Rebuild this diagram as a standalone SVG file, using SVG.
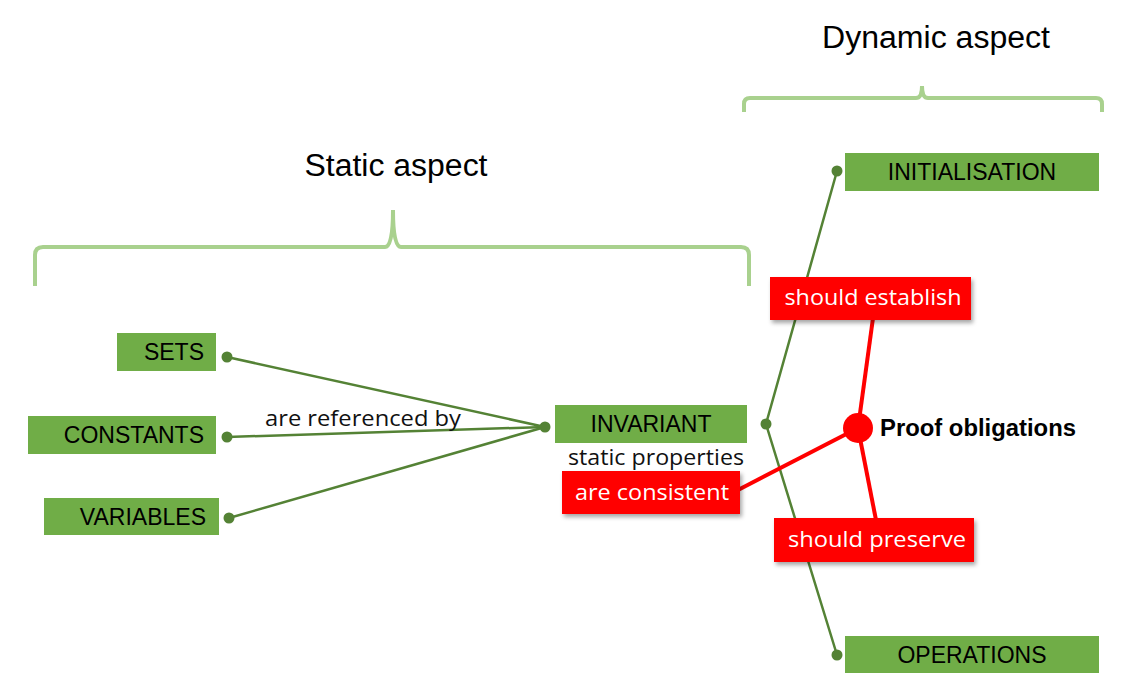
<svg xmlns="http://www.w3.org/2000/svg" width="1142" height="697" viewBox="0 0 1142 697">
<defs>
<style>
.box{fill:#70AD47}
.lbl{font-family:"Liberation Sans",Arial,sans-serif;font-size:23px;fill:#000}
.red{fill:#FF0000;filter:url(#sh)}
.rlbl{font-family:"Open Sans",sans-serif;font-size:21px;fill:#fff;text-anchor:middle}
.note{font-family:"Open Sans",sans-serif;font-size:21px;fill:#111}
.title{font-family:"Liberation Sans",Arial,sans-serif;font-size:31px;fill:#000;text-anchor:middle}
.brace{fill:none;stroke:#A9D18E;stroke-width:4}
.g{stroke:#548235;stroke-width:2.5;fill:none}
.r{stroke:#FF0000;stroke-width:4;fill:none}
.dot{fill:#548235}
</style>
<filter id="sh" x="-10%" y="-20%" width="130%" height="150%">
<feDropShadow dx="2" dy="3" stdDeviation="2" flood-color="#000" flood-opacity="0.35"/>
</filter>
</defs>
<rect width="1142" height="697" fill="#fff"/>

<g id="titles">
<text class="title" x="936" y="48" textLength="228" lengthAdjust="spacingAndGlyphs">Dynamic aspect</text>
<path class="brace" d="M744,112 V104 Q744,98 750,98 H916 Q922,98 922,86 Q922,98 928,98 H1096 Q1102,98 1102,104 V112"/>
<text class="title" x="396" y="176" textLength="183" lengthAdjust="spacingAndGlyphs">Static aspect</text>
<path class="brace" d="M35,286 V255 Q35,247 43,247 H385 Q393,247 393,210 Q393,247 401,247 H741 Q749,247 749,255 V286"/>
</g>

<g id="connectors">
<line class="g" x1="227" y1="357" x2="545" y2="427"/>
<line class="g" x1="227" y1="437" x2="545" y2="427"/>
<line class="g" x1="229" y1="518" x2="545" y2="427"/>
<polyline class="g" points="837,171 766,424 837,655"/>
<line class="r" x1="873" y1="318" x2="858" y2="428"/>
<line class="r" x1="858" y1="428" x2="876" y2="520"/>
<line class="r" x1="738" y1="490" x2="858" y2="428"/>
<circle class="dot" cx="227" cy="357" r="5.5"/>
<circle class="dot" cx="227" cy="437" r="5.5"/>
<circle class="dot" cx="229" cy="518" r="5.5"/>
<circle class="dot" cx="545" cy="427" r="5.5"/>
<circle class="dot" cx="766" cy="424" r="5.5"/>
<circle class="dot" cx="837" cy="171" r="5.5"/>
<circle class="dot" cx="837" cy="655" r="5.5"/>
<text class="note" x="265" y="426" textLength="196" lengthAdjust="spacingAndGlyphs">are referenced by</text>
<text class="note" x="568" y="465" textLength="176" lengthAdjust="spacingAndGlyphs">static properties</text>
</g>

<g id="sets"><rect class="box" x="117" y="333" width="99" height="38"/><text class="lbl" x="204" y="360" text-anchor="end">SETS</text></g>
<g id="constants"><rect class="box" x="28" y="416" width="188" height="38"/><text class="lbl" x="204" y="443" text-anchor="end">CONSTANTS</text></g>
<g id="variables"><rect class="box" x="44" y="498" width="175" height="37"/><text class="lbl" x="206" y="525" text-anchor="end">VARIABLES</text></g>
<g id="invariant"><rect class="box" x="555" y="405" width="192" height="38"/><text class="lbl" x="651" y="432" text-anchor="middle">INVARIANT</text></g>
<g id="initialisation"><rect class="box" x="845" y="153" width="254" height="38"/><text class="lbl" x="972" y="180" text-anchor="middle">INITIALISATION</text></g>
<g id="operations"><rect class="box" x="845" y="636" width="254" height="37"/><text class="lbl" x="972" y="663" text-anchor="middle">OPERATIONS</text></g>

<g id="should-establish"><rect class="red" x="770" y="277" width="201" height="43"/><text class="rlbl" x="873" y="305" textLength="177" lengthAdjust="spacingAndGlyphs">should establish</text></g>
<g id="are-consistent"><rect class="red" x="562" y="471" width="178" height="43"/><text class="rlbl" x="652" y="500" textLength="154" lengthAdjust="spacingAndGlyphs">are consistent</text></g>
<g id="should-preserve"><rect class="red" x="774" y="518" width="200" height="44"/><text class="rlbl" x="877" y="547" textLength="178" lengthAdjust="spacingAndGlyphs">should preserve</text></g>

<g id="proof-obligations">
<circle cx="858" cy="428" r="15" fill="#FF0000"/>
<text x="880" y="436" font-family="'Liberation Sans',Arial,sans-serif" font-size="23" font-weight="bold" fill="#000" textLength="196" lengthAdjust="spacingAndGlyphs">Proof obligations</text>
</g>
</svg>
